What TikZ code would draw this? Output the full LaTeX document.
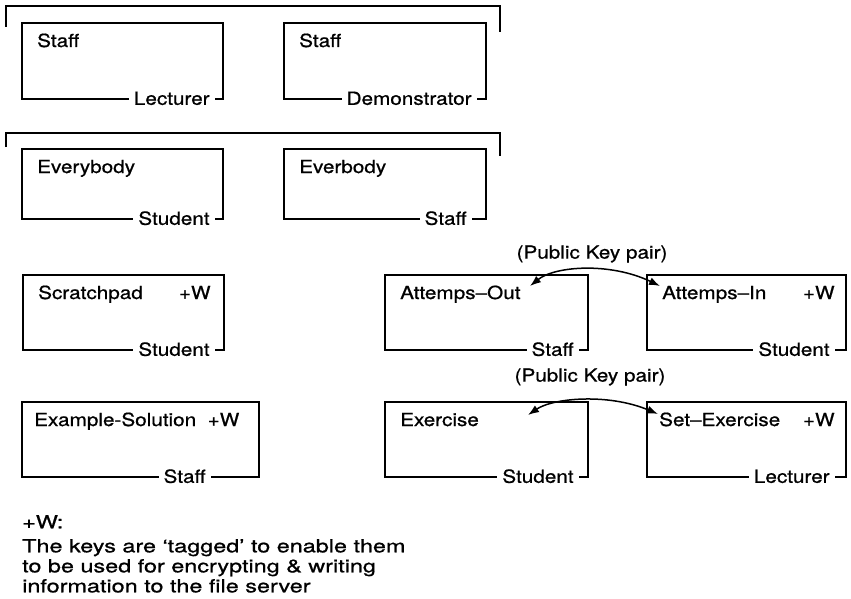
\documentclass[tikz,border=0pt]{standalone}
\usepackage{fontspec}
\setmainfont{TeX Gyre Heros}[FakeStretch=1.15, FakeBold=0.8]
\newfontfamily\notefont{TeX Gyre Heros}[FakeStretch=1.3, FakeBold=0.9]
\usetikzlibrary{arrows.meta}

\begin{document}
\begin{tikzpicture}[x=1pt,y=-1pt,
  keybox/.style={draw, line width=1.8pt, rectangle, anchor=north west, inner sep=0pt},
  keytitle/.style={anchor=base west, inner sep=0pt, font=\fontsize{18}{21}\selectfont},
  keytag/.style={anchor=base east, inner sep=0pt, font=\fontsize{18}{21}\selectfont},
  keyowner/.style={anchor=east, fill=white, inner xsep=5pt, inner ysep=1pt,
    text height=13pt, text depth=3pt, font=\fontsize{18}{21}\selectfont},
  grouping/.style={line width=1.5pt},
  pkarrow/.style={line width=1.5pt,
    {Latex[length=11pt,width=8pt]}-{Latex[length=11pt,width=8pt]}},
  pklabel/.style={inner sep=0pt, font=\fontsize{18}{21}\selectfont},
  note/.style={anchor=north west, inner sep=0pt, align=left,
    font=\notefont\fontsize{18}{20}\selectfont}
]
\useasboundingbox (0,0) rectangle (851,599);

% brackets grouping the first two rows
\draw[grouping] (6,27) -- (6,6) -- (500,6) -- (500,32);
\draw[grouping] (6,147) -- (6,133) -- (500,133) -- (500,156);

% key boxes
\node[keybox, minimum width=201pt, minimum height=76pt] (stLect)  at (21,22)  {};
\node[keybox, minimum width=202pt, minimum height=76pt] (stDemo)  at (283,22) {};
\node[keybox, minimum width=201pt, minimum height=70pt] (evStud)  at (21,148) {};
\node[keybox, minimum width=202pt, minimum height=70pt] (evStaff) at (283,148) {};
\node[keybox, minimum width=201pt, minimum height=75pt] (scratch) at (22,274) {};
\node[keybox, minimum width=203pt, minimum height=75pt] (attOut)  at (384,274) {};
\node[keybox, minimum width=199pt, minimum height=75pt] (attIn)   at (646,274) {};
\node[keybox, minimum width=237pt, minimum height=75pt] (exSol)   at (21,401) {};
\node[keybox, minimum width=203pt, minimum height=75pt] (exer)    at (384,401) {};
\node[keybox, minimum width=199pt, minimum height=75pt] (setEx)   at (646,401) {};

% titles
\node[keytitle] (stLectT)  at ([xshift=16pt,yshift=-25pt]stLect.north west)  {Staff};
\node[keytitle] (stDemoT)  at ([xshift=16pt,yshift=-25pt]stDemo.north west)  {Staff};
\node[keytitle] (evStudT)  at ([xshift=16pt,yshift=-25pt]evStud.north west)  {Everybody};
\node[keytitle] (evStaffT) at ([xshift=16pt,yshift=-25pt]evStaff.north west) {Everbody};
\node[keytitle] (scratchT) at ([xshift=16pt,yshift=-25pt]scratch.north west) {Scratchpad};
\node[keytitle] (attOutT)  at ([xshift=16pt,yshift=-25pt]attOut.north west)  {Attemps–Out};
\node[keytitle] (attInT)   at ([xshift=16pt,yshift=-25pt]attIn.north west)   {Attemps–In};
\node[keytitle] (exSolT)   at ([xshift=13pt,yshift=-25pt]exSol.north west)   {Example-Solution\ \ +W};
\node[keytitle] (exerT)    at ([xshift=16pt,yshift=-25pt]exer.north west)    {Exercise};
\node[keytitle] (setExT)   at ([xshift=13pt,yshift=-25pt]setEx.north west)   {Set–Exercise};

% write tags
\node[keytag] (scratchW) at ([xshift=-14pt,yshift=-25pt]scratch.north east) {+W};
\node[keytag] (attInW)   at ([xshift=-12pt,yshift=-25pt]attIn.north east)   {+W};
\node[keytag] (setExW)   at ([xshift=-12pt,yshift=-25pt]setEx.north east)   {+W};

% owners on the bottom edges
\node[keyowner] (stLectO)  at ([xshift=-9pt]stLect.south east)   {Lecturer};
\node[keyowner] (stDemoO)  at ([xshift=-10pt]stDemo.south east)  {Demonstrator};
\node[keyowner] (evStudO)  at ([xshift=-9pt]evStud.south east)   {Student};
\node[keyowner] (evStaffO) at ([xshift=-15pt]evStaff.south east) {Staff};
\node[keyowner] (scratchO) at ([xshift=-10pt]scratch.south east) {Student};
\node[keyowner] (attOutO)  at ([xshift=-10pt]attOut.south east)  {Staff};
\node[keyowner] (attInO)   at ([xshift=-12pt]attIn.south east)   {Student};
\node[keyowner] (exSolO)   at ([xshift=-49pt]exSol.south east)   {Staff};
\node[keyowner] (exerO)    at ([xshift=-10pt]exer.south east)    {Student};
\node[keyowner] (setExO)   at ([xshift=-12pt]setEx.south east)   {Lecturer};

% public key pairs
\node[pklabel] (pk1) at (592,254) {(Public Key pair)};
\node[pklabel] (pk2) at (590,377) {(Public Key pair)};
\coordinate (pk1L) at (530,286);
\coordinate (pk1R) at (660,286);
\coordinate (pk2L) at (528,415);
\coordinate (pk2R) at (658,414);
\draw[pkarrow] (pk1L) .. controls +(25,-20) and +(-50,-24) .. (pk1R);
\draw[pkarrow] (pk2L) .. controls +(25,-17) and +(-50,-21) .. (pk2R);

% note
\node[note] (wnote) at (22,515) {+W:\\[4pt]
The keys are ‘tagged’ to enable them\\
to be used for encrypting \& writing\\
information to the file server};
\end{tikzpicture}
\end{document}
